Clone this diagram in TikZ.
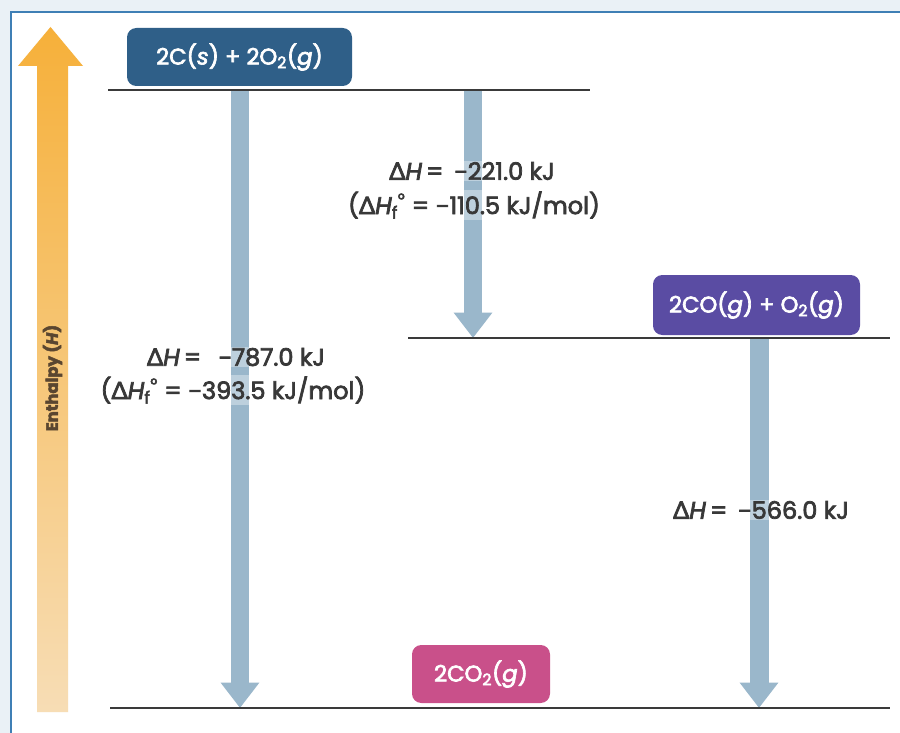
\documentclass[tikz,border=0pt]{standalone}
\usepackage{fontspec}
\setmainfont{Poppins}[FakeBold=3]
\newfontfamily\gfont{Lato}[FakeBold=3]
\usetikzlibrary{arrows.meta}
\definecolor{bgout}{HTML}{EAF1F6}
\definecolor{frameblue}{HTML}{3F7FB5}
\definecolor{shaftcol}{HTML}{9AB7CB}
\definecolor{boxblue}{HTML}{2F5F88}
\definecolor{boxpurple}{HTML}{5A4CA3}
\definecolor{boxpink}{HTML}{C9508A}
\definecolor{txtcol}{HTML}{383838}
\definecolor{ortop}{HTML}{F6B03A}
\definecolor{orbot}{HTML}{F7DDB5}
\definecolor{enthcol}{HTML}{5A4630}
\definecolor{linecol}{HTML}{3A3A3A}
\newcommand{\dl}{{\gfont Δ}}
\newcommand{\mn}{{\gfont −}}
\newcommand{\hf}{\textit{H}\rlap{\textsubscript{f}}\kern0.25em\textsuperscript{°}}
\tikzset{
  rbox/.style={rounded corners=8pt, text=white, font=\fontsize{19.3pt}{21pt}\selectfont, inner sep=0pt},
  lbl/.style={text=txtcol, font=\fontsize{20.5pt}{22pt}\selectfont, fill=white, fill opacity=0.35, text opacity=1, inner sep=1pt},
  levelline/.style={draw=linecol, line width=1.6pt},
  bigarrow/.style={draw=shaftcol, line width=16.2pt, -{Triangle[width=1.11cm,length=0.76cm]}, shorten >=0pt}
}
\begin{document}
\begin{tikzpicture}[x=0.03cm,y=-0.03cm]
\useasboundingbox (0,0) rectangle (900,733);
\fill[bgout] (0,0) rectangle (900,733);
\fill[white] (11,12) rectangle (900,733);
\draw[frameblue, line width=1.6pt] (11,733) -- (11,12) -- (900,12);
% enthalpy axis arrow
\shade[top color=ortop, bottom color=orbot] (37,712) -- (37,66) -- (18,66) -- (50.5,27) -- (83,66) -- (68,66) -- (68,712) -- cycle;
\node[rotate=90, text=enthcol, font=\fontsize{14pt}{16pt}\selectfont\bfseries] (enth) at (52.5,378) {Enthalpy (\textit{H})};
% level coordinates
\coordinate (t1) at (108,90);  \coordinate (t2) at (590,90);
\coordinate (m1) at (408,338); \coordinate (m2) at (890,338);
\coordinate (b1) at (110,708); \coordinate (b2) at (890,708);
\coordinate (a1s) at (240,90);  \coordinate (a1e) at (240,708);
\coordinate (a2s) at (473,90);  \coordinate (a2e) at (473,338);
\coordinate (a3s) at (759,338); \coordinate (a3e) at (759,708);
% arrows
\draw[bigarrow] (a1s) -- (a1e);
\draw[bigarrow] (a2s) -- (a2e);
\draw[bigarrow] (a3s) -- (a3e);
% levels
\draw[levelline] (t1) -- (t2);
\draw[levelline] (m1) -- (m2);
\draw[levelline] (b1) -- (b2);
% boxes
\node[rbox, fill=boxblue, minimum width={225*0.03cm}, minimum height={58*0.03cm}] (react) at (239.5,57) {2C(\textit{s}) + 2O\textsubscript{2}(\textit{g})};
\node[rbox, fill=boxpurple, minimum width={207*0.03cm}, minimum height={60*0.03cm}] (inter) at (756.5,305) {2CO(\textit{g}) + O\textsubscript{2}(\textit{g})};
\node[rbox, fill=boxpink, minimum width={138*0.03cm}, minimum height={58*0.03cm}] (prod) at (481,674) {2CO\textsubscript{2}(\textit{g})};
% labels
\node[lbl] (l1a) at (472,171) {\dl\textit{H}\,=\,\ \mn 221.0 kJ};
\node[lbl] (l1b) at (474,205) {(\dl\hf\ = \mn 110.5 kJ/mol)};
\node[lbl] (l2a) at (236,357) {\dl\textit{H}\,=\ \ \,\mn 787.0 kJ};
\node[lbl] (l2b) at (233,390) {(\dl\hf\ = \mn 393.5 kJ/mol)};
\node[lbl] (l3) at (761,510) {\dl\textit{H}\,=\,\ \mn 566.0 kJ};
\end{tikzpicture}
\end{document}
